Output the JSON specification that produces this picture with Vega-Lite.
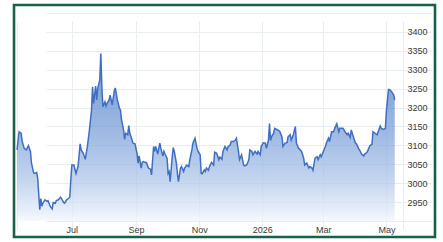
{
  "$schema": "https://vega.github.io/schema/vega-lite/v6.json",
  "width": 421,
  "height": 232,
  "autosize": {"type": "none"},
  "padding": {"left": 14, "top": 5, "right": 8, "bottom": 5},
  "background": "white",
  "config": {
    "view": {"stroke": "#17604b", "strokeWidth": 2.6, "fill": "white"},
    "axis": {
      "domain": false,
      "ticks": false,
      "tickSize": 0,
      "grid": true,
      "gridColor": "#e8edf1",
      "gridWidth": 1,
      "labelFont": "Liberation Sans",
      "labelFontSize": 9,
      "labelColor": "#3a3a3a",
      "labelOverlap": false,
      "title": null
    }
  },
  "data": {
    "values": [
      {"date": "2025-05-09", "price": 3088},
      {"date": "2025-05-11", "price": 3136},
      {"date": "2025-05-13", "price": 3132},
      {"date": "2025-05-14", "price": 3110},
      {"date": "2025-05-16", "price": 3092},
      {"date": "2025-05-18", "price": 3088},
      {"date": "2025-05-20", "price": 3099},
      {"date": "2025-05-22", "price": 3084},
      {"date": "2025-05-23", "price": 3053},
      {"date": "2025-05-25", "price": 3028},
      {"date": "2025-05-26", "price": 3026},
      {"date": "2025-05-28", "price": 3028},
      {"date": "2025-05-29", "price": 3013},
      {"date": "2025-05-31", "price": 2930},
      {"date": "2025-06-01", "price": 2959},
      {"date": "2025-06-02", "price": 2939},
      {"date": "2025-06-03", "price": 2947},
      {"date": "2025-06-05", "price": 2956},
      {"date": "2025-06-07", "price": 2952},
      {"date": "2025-06-08", "price": 2954},
      {"date": "2025-06-10", "price": 2939},
      {"date": "2025-06-12", "price": 2932},
      {"date": "2025-06-13", "price": 2949},
      {"date": "2025-06-15", "price": 2947},
      {"date": "2025-06-16", "price": 2954},
      {"date": "2025-06-18", "price": 2956},
      {"date": "2025-06-20", "price": 2963},
      {"date": "2025-06-21", "price": 2959},
      {"date": "2025-06-23", "price": 2949},
      {"date": "2025-06-24", "price": 2947},
      {"date": "2025-06-26", "price": 2956},
      {"date": "2025-06-28", "price": 2960},
      {"date": "2025-06-29", "price": 2963},
      {"date": "2025-06-30", "price": 3009},
      {"date": "2025-07-01", "price": 3048},
      {"date": "2025-07-03", "price": 3048},
      {"date": "2025-07-05", "price": 3026},
      {"date": "2025-07-07", "price": 3044},
      {"date": "2025-07-09", "price": 3104},
      {"date": "2025-07-10", "price": 3088},
      {"date": "2025-07-12", "price": 3079},
      {"date": "2025-07-14", "price": 3063},
      {"date": "2025-07-16", "price": 3097},
      {"date": "2025-07-18", "price": 3141},
      {"date": "2025-07-20", "price": 3193},
      {"date": "2025-07-21", "price": 3255},
      {"date": "2025-07-22", "price": 3211},
      {"date": "2025-07-24", "price": 3257},
      {"date": "2025-07-25", "price": 3220},
      {"date": "2025-07-26", "price": 3251},
      {"date": "2025-07-28", "price": 3273},
      {"date": "2025-07-29", "price": 3343},
      {"date": "2025-07-30", "price": 3255},
      {"date": "2025-07-31", "price": 3202},
      {"date": "2025-08-02", "price": 3215},
      {"date": "2025-08-03", "price": 3204},
      {"date": "2025-08-04", "price": 3211},
      {"date": "2025-08-06", "price": 3220},
      {"date": "2025-08-07", "price": 3233},
      {"date": "2025-08-08", "price": 3220},
      {"date": "2025-08-09", "price": 3207},
      {"date": "2025-08-11", "price": 3244},
      {"date": "2025-08-12", "price": 3252},
      {"date": "2025-08-14", "price": 3220},
      {"date": "2025-08-16", "price": 3198},
      {"date": "2025-08-17", "price": 3193},
      {"date": "2025-08-18", "price": 3167},
      {"date": "2025-08-20", "price": 3141},
      {"date": "2025-08-21", "price": 3116},
      {"date": "2025-08-22", "price": 3132},
      {"date": "2025-08-24", "price": 3128},
      {"date": "2025-08-25", "price": 3152},
      {"date": "2025-08-26", "price": 3132},
      {"date": "2025-08-28", "price": 3116},
      {"date": "2025-08-29", "price": 3106},
      {"date": "2025-08-31", "price": 3104},
      {"date": "2025-09-02", "price": 3079},
      {"date": "2025-09-03", "price": 3053},
      {"date": "2025-09-04", "price": 3072},
      {"date": "2025-09-06", "price": 3040},
      {"date": "2025-09-07", "price": 3055},
      {"date": "2025-09-08", "price": 3057},
      {"date": "2025-09-10", "price": 3055},
      {"date": "2025-09-11", "price": 3055},
      {"date": "2025-09-13", "price": 3040},
      {"date": "2025-09-15", "price": 3037},
      {"date": "2025-09-16", "price": 3022},
      {"date": "2025-09-18", "price": 3097},
      {"date": "2025-09-19", "price": 3084},
      {"date": "2025-09-20", "price": 3097},
      {"date": "2025-09-22", "price": 3077},
      {"date": "2025-09-23", "price": 3092},
      {"date": "2025-09-24", "price": 3106},
      {"date": "2025-09-25", "price": 3092},
      {"date": "2025-09-27", "price": 3072},
      {"date": "2025-09-28", "price": 3084},
      {"date": "2025-09-29", "price": 3077},
      {"date": "2025-10-01", "price": 3066},
      {"date": "2025-10-02", "price": 3026},
      {"date": "2025-10-03", "price": 3031},
      {"date": "2025-10-04", "price": 3004},
      {"date": "2025-10-06", "price": 3070},
      {"date": "2025-10-07", "price": 3094},
      {"date": "2025-10-08", "price": 3084},
      {"date": "2025-10-10", "price": 3053},
      {"date": "2025-10-11", "price": 3026},
      {"date": "2025-10-12", "price": 3004},
      {"date": "2025-10-14", "price": 3040},
      {"date": "2025-10-15", "price": 3044},
      {"date": "2025-10-17", "price": 3031},
      {"date": "2025-10-18", "price": 3040},
      {"date": "2025-10-20", "price": 3048},
      {"date": "2025-10-22", "price": 3044},
      {"date": "2025-10-23", "price": 3062},
      {"date": "2025-10-25", "price": 3088},
      {"date": "2025-10-26", "price": 3106},
      {"date": "2025-10-28", "price": 3119},
      {"date": "2025-10-30", "price": 3092},
      {"date": "2025-10-31", "price": 3084},
      {"date": "2025-11-02", "price": 3075},
      {"date": "2025-11-03", "price": 3026},
      {"date": "2025-11-04", "price": 3025},
      {"date": "2025-11-06", "price": 3035},
      {"date": "2025-11-07", "price": 3031},
      {"date": "2025-11-08", "price": 3040},
      {"date": "2025-11-10", "price": 3034},
      {"date": "2025-11-11", "price": 3044},
      {"date": "2025-11-13", "price": 3055},
      {"date": "2025-11-15", "price": 3048},
      {"date": "2025-11-16", "price": 3082},
      {"date": "2025-11-18", "price": 3079},
      {"date": "2025-11-20", "price": 3062},
      {"date": "2025-11-21", "price": 3069},
      {"date": "2025-11-23", "price": 3063},
      {"date": "2025-11-24", "price": 3084},
      {"date": "2025-11-26", "price": 3097},
      {"date": "2025-11-28", "price": 3088},
      {"date": "2025-11-29", "price": 3097},
      {"date": "2025-12-01", "price": 3101},
      {"date": "2025-12-02", "price": 3110},
      {"date": "2025-12-04", "price": 3110},
      {"date": "2025-12-06", "price": 3114},
      {"date": "2025-12-07", "price": 3119},
      {"date": "2025-12-09", "price": 3084},
      {"date": "2025-12-10", "price": 3062},
      {"date": "2025-12-12", "price": 3075},
      {"date": "2025-12-14", "price": 3048},
      {"date": "2025-12-15", "price": 3046},
      {"date": "2025-12-17", "price": 3048},
      {"date": "2025-12-19", "price": 3062},
      {"date": "2025-12-20", "price": 3088},
      {"date": "2025-12-22", "price": 3084},
      {"date": "2025-12-23", "price": 3075},
      {"date": "2025-12-25", "price": 3084},
      {"date": "2025-12-27", "price": 3077},
      {"date": "2025-12-28", "price": 3084},
      {"date": "2025-12-30", "price": 3075},
      {"date": "2025-12-31", "price": 3097},
      {"date": "2026-01-02", "price": 3107},
      {"date": "2026-01-04", "price": 3106},
      {"date": "2026-01-05", "price": 3092},
      {"date": "2026-01-07", "price": 3114},
      {"date": "2026-01-08", "price": 3158},
      {"date": "2026-01-09", "price": 3113},
      {"date": "2026-01-10", "price": 3123},
      {"date": "2026-01-12", "price": 3132},
      {"date": "2026-01-13", "price": 3145},
      {"date": "2026-01-15", "price": 3142},
      {"date": "2026-01-17", "price": 3139},
      {"date": "2026-01-18", "price": 3136},
      {"date": "2026-01-20", "price": 3123},
      {"date": "2026-01-21", "price": 3097},
      {"date": "2026-01-23", "price": 3106},
      {"date": "2026-01-25", "price": 3107},
      {"date": "2026-01-26", "price": 3123},
      {"date": "2026-01-28", "price": 3128},
      {"date": "2026-01-29", "price": 3114},
      {"date": "2026-01-31", "price": 3128},
      {"date": "2026-02-02", "price": 3150},
      {"date": "2026-02-03", "price": 3106},
      {"date": "2026-02-05", "price": 3092},
      {"date": "2026-02-06", "price": 3090},
      {"date": "2026-02-08", "price": 3084},
      {"date": "2026-02-10", "price": 3066},
      {"date": "2026-02-11", "price": 3048},
      {"date": "2026-02-13", "price": 3053},
      {"date": "2026-02-15", "price": 3040},
      {"date": "2026-02-16", "price": 3044},
      {"date": "2026-02-18", "price": 3040},
      {"date": "2026-02-19", "price": 3034},
      {"date": "2026-02-21", "price": 3066},
      {"date": "2026-02-23", "price": 3070},
      {"date": "2026-02-24", "price": 3062},
      {"date": "2026-02-26", "price": 3075},
      {"date": "2026-02-27", "price": 3070},
      {"date": "2026-03-01", "price": 3084},
      {"date": "2026-03-03", "price": 3097},
      {"date": "2026-03-04", "price": 3106},
      {"date": "2026-03-06", "price": 3119},
      {"date": "2026-03-07", "price": 3110},
      {"date": "2026-03-09", "price": 3136},
      {"date": "2026-03-11", "price": 3136},
      {"date": "2026-03-12", "price": 3145},
      {"date": "2026-03-14", "price": 3157},
      {"date": "2026-03-16", "price": 3136},
      {"date": "2026-03-17", "price": 3145},
      {"date": "2026-03-19", "price": 3145},
      {"date": "2026-03-20", "price": 3145},
      {"date": "2026-03-22", "price": 3136},
      {"date": "2026-03-24", "price": 3128},
      {"date": "2026-03-25", "price": 3132},
      {"date": "2026-03-27", "price": 3121},
      {"date": "2026-03-28", "price": 3141},
      {"date": "2026-03-30", "price": 3123},
      {"date": "2026-04-01", "price": 3106},
      {"date": "2026-04-02", "price": 3104},
      {"date": "2026-04-04", "price": 3092},
      {"date": "2026-04-05", "price": 3088},
      {"date": "2026-04-07", "price": 3077},
      {"date": "2026-04-09", "price": 3072},
      {"date": "2026-04-10", "price": 3077},
      {"date": "2026-04-12", "price": 3081},
      {"date": "2026-04-13", "price": 3086},
      {"date": "2026-04-15", "price": 3099},
      {"date": "2026-04-17", "price": 3103},
      {"date": "2026-04-18", "price": 3136},
      {"date": "2026-04-20", "price": 3132},
      {"date": "2026-04-22", "price": 3128},
      {"date": "2026-04-23", "price": 3136},
      {"date": "2026-04-25", "price": 3151},
      {"date": "2026-04-26", "price": 3145},
      {"date": "2026-04-28", "price": 3142},
      {"date": "2026-04-30", "price": 3145},
      {"date": "2026-05-01", "price": 3193},
      {"date": "2026-05-03", "price": 3248},
      {"date": "2026-05-04", "price": 3248},
      {"date": "2026-05-06", "price": 3242},
      {"date": "2026-05-08", "price": 3233},
      {"date": "2026-05-09", "price": 3220}
    ]
  },
  "mark": {
    "type": "area",
    "line": {"color": "#3f6fc2", "strokeWidth": 1.5},
    "color": {
      "gradient": "linear",
      "x1": 0, "y1": 0, "x2": 0, "y2": 1,
      "stops": [
        {"offset": 0, "color": "#4a7bcb"},
        {"offset": 0.27, "color": "#5b87cc"},
        {"offset": 0.5, "color": "#7a9fd8"},
        {"offset": 0.75, "color": "#a9c2e8"},
        {"offset": 0.93, "color": "#dbe6f6"},
        {"offset": 1, "color": "#f2f6fc"}
      ]
    }
  },
  "encoding": {
    "x": {
      "field": "date",
      "type": "temporal",
      "scale": {
        "type": "utc",
        "domain": [
          {"year": 2025, "month": 5, "date": 9, "utc": true},
          {"year": 2026, "month": 5, "date": 17, "utc": true}
        ],
        "range": [3, 389]
      },
      "axis": {
        "orient": "bottom",
        "offset": -16,
        "labelPadding": 4,
        "values": [
          {"year": 2025, "month": 5, "date": 9, "utc": true},
          {"year": 2025, "month": 7, "date": 1, "utc": true},
          {"year": 2025, "month": 9, "date": 1, "utc": true},
          {"year": 2025, "month": 11, "date": 1, "utc": true},
          {"year": 2026, "month": 1, "date": 1, "utc": true},
          {"year": 2026, "month": 3, "date": 1, "utc": true},
          {"year": 2026, "month": 5, "date": 1, "utc": true},
          {"year": 2026, "month": 5, "date": 17, "utc": true}
        ],
        "labelExpr": "utcFormat(datum.value, '%d') != '01' ? '' : (utcFormat(datum.value, '%m') == '01' ? utcFormat(datum.value, '%Y') : utcFormat(datum.value, '%b'))"
      }
    },
    "y": {
      "field": "price",
      "type": "quantitative",
      "scale": {"domain": [2900, 3450], "range": [216, 8], "zero": false},
      "axis": {
        "orient": "right",
        "offset": -32,
        "labelPadding": 4,
        "format": "d",
        "values": [2900, 2950, 3000, 3050, 3100, 3150, 3200, 3250, 3300, 3350, 3400, 3450],
        "labelExpr": "datum.value == 2900 || datum.value == 3450 ? '' : datum.label"
      }
    },
    "y2": {"datum": 2900}
  }
}
